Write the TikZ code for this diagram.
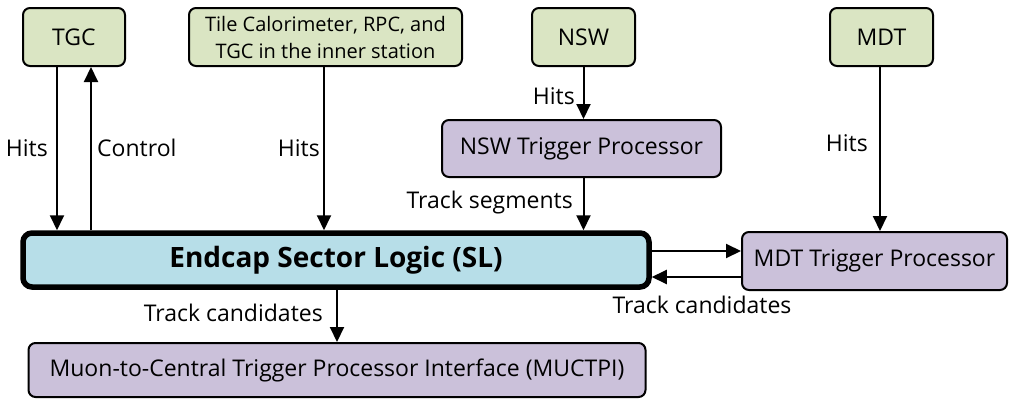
\documentclass[tikz,border=0pt]{standalone}
\usepackage{fontspec}
\setmainfont{Open Sans}
\usetikzlibrary{arrows.meta,calc}
\definecolor{grn}{HTML}{DAE5C3}
\definecolor{prp}{HTML}{CBC1DA}
\definecolor{blu}{HTML}{B7DEE8}
\tikzset{
  box/.style={draw=black,line width=2pt,rounded corners=7pt,inner sep=0pt,align=center,font=\fontsize{23}{28}\selectfont},
  src/.style={box,fill=grn},
  proc/.style={box,fill=prp},
  arr/.style={line width=2pt,-{Triangle[length=15pt,width=14pt]}},
  lbl/.style={font=\fontsize{23}{28}\selectfont,inner sep=0pt}
}
\begin{document}
\begin{tikzpicture}[x=1pt,y=-1pt]
\useasboundingbox (0,0) rectangle (1013,399);
\node[src,minimum width=102pt,minimum height=58pt] (tgc) at (74,37) {TGC};
\node[src,minimum width=273pt,minimum height=58pt,font=\fontsize{20}{27}\selectfont] (tile) at (325.5,37) {Tile Calorimeter, RPC, and\\TGC in the inner station};
\node[src,minimum width=103pt,minimum height=58pt] (nsw) at (583.5,37) {NSW};
\node[src,minimum width=103pt,minimum height=58pt] (mdt) at (881.5,37) {MDT};
\node[proc,minimum width=279pt,minimum height=57pt] (nswtp) at (581.5,148.5) {NSW Trigger Processor};
\node[box,fill=blu,line width=5.5pt,rounded corners=9pt,minimum width=626pt,minimum height=54pt,font=\fontsize{28}{32}\selectfont\bfseries] (sl) at (336,260) {Endcap Sector Logic (SL)};
\node[proc,minimum width=265pt,minimum height=58pt] (mdttp) at (874.5,261) {MDT Trigger Processor};
\node[proc,minimum width=617pt,minimum height=54pt] (muc) at (337,370) {Muon-to-Central Trigger Processor Interface (MUCTPI)};
% TGC
\coordinate (h1) at ([xshift=-17pt]tgc.south);
\coordinate (c1) at ([xshift=17pt]tgc.south);
\draw[arr] (h1) -- (h1 |- sl.north);
\draw[arr] (c1 |- sl.north) -- (c1);
\node[lbl,anchor=east] at (48,148) {Hits};
\node[lbl,anchor=west] at (97,148) {Control};
% Tile
\coordinate (h2) at ([xshift=-1.5pt]tile.south);
\draw[arr] (h2) -- (h2 |- sl.north);
\node[lbl,anchor=east] at (320,148) {Hits};
% NSW
\draw[arr] (nsw.south) -- (nsw.south |- nswtp.north);
\node[lbl,anchor=east] at (575,96) {Hits};
\draw[arr] (nswtp.south -| nsw.south) -- (nsw.south |- sl.north);
\node[lbl,anchor=east] at (573,203) {Track segments};
% MDT
\coordinate (h3) at ([xshift=-1.5pt]mdt.south);
\draw[arr] (h3) -- (h3 |- mdttp.north);
\node[lbl,anchor=east] at (868,143) {Hits};
% SL <-> MDT TP
\coordinate (r1) at (sl.east |- 0,251);
\coordinate (r2) at (sl.east |- 0,277);
\draw[arr] (r1) -- (r1 -| mdttp.west);
\draw[arr] (r2 -| mdttp.west) -- (r2);
\node[lbl] at (702,305) {Track candidates};
% SL -> MUCTPI
\coordinate (m1) at ([xshift=1pt]sl.south);
\draw[arr] (m1) -- (m1 |- muc.north);
\node[lbl,anchor=east] at (323,313) {Track candidates};
\end{tikzpicture}
\end{document}
